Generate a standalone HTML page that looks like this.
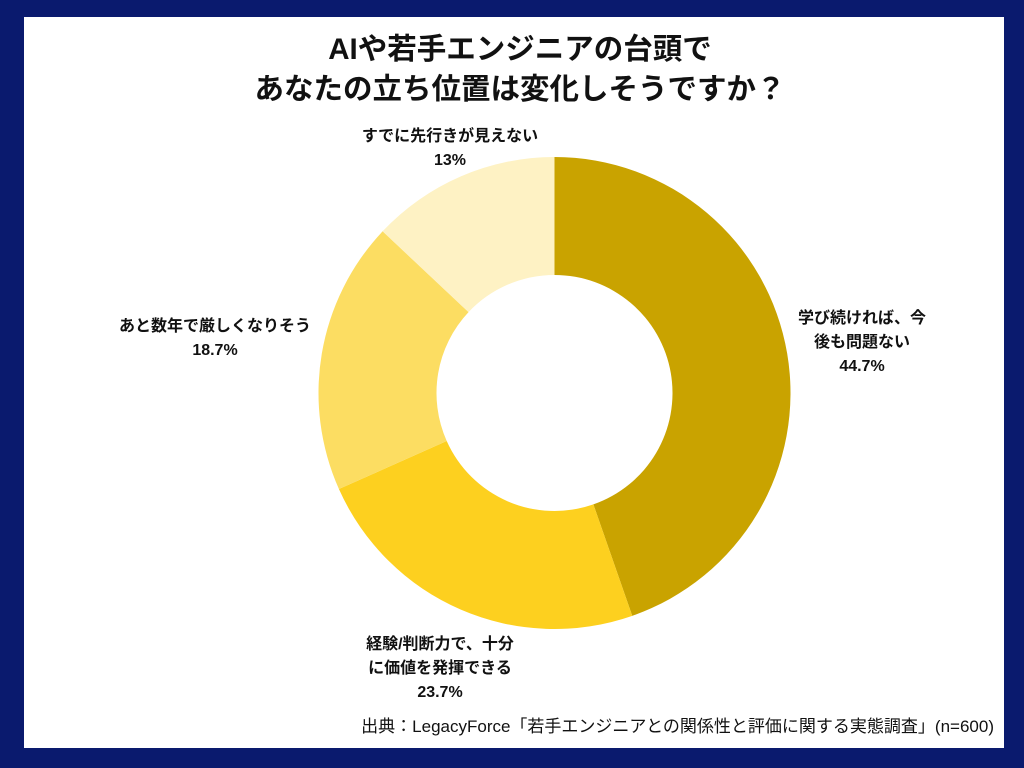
<!DOCTYPE html>
<html><head><meta charset="utf-8"><style>
html,body{margin:0;padding:0;width:1024px;height:768px;overflow:hidden;background:#0a1a6e;}
#card{position:absolute;left:24px;top:17px;width:980px;height:731px;background:#fff;}
.t{position:absolute;font-family:"Liberation Sans","Noto Sans CJK JP",sans-serif;color:#111;text-align:center;}
</style></head><body>
<div id="card"></div>
<div class="t" style="left:0;width:1040px;top:30px;font-size:29.5px;font-weight:bold;line-height:40px;">AIや若手エンジニアの台頭で<br>あなたの立ち位置は変化しそうですか？</div>
<svg id="chart" width="1024" height="768" style="position:absolute;left:0;top:0"></svg>
<div class="t" style="left:772px;width:180px;top:307px;font-size:16px;font-weight:bold;line-height:24px;">学び続ければ、今<br>後も問題ない<br>44.7%</div>
<div class="t" style="left:340px;width:200px;top:633px;font-size:16px;font-weight:bold;line-height:24px;">経験/判断力で、十分<br>に価値を発揮できる<br>23.7%</div>
<div class="t" style="left:95px;width:240px;top:315px;font-size:16px;font-weight:bold;line-height:24px;">あと数年で厳しくなりそう<br>18.7%</div>
<div class="t" style="left:330px;width:240px;top:125px;font-size:16px;font-weight:bold;line-height:24px;">すでに先行きが見えない<br>13%</div>
<div class="t" style="left:300px;width:694px;top:712px;font-size:17px;text-align:right;">出典：LegacyForce「若手エンジニアとの関係性と評価に関する実態調査」(n=600)</div>
<script>
const categories=["学び続ければ、今後も問題ない","経験/判断力で、十分に価値を発揮できる","あと数年で厳しくなりそう","すでに先行きが見えない"];
const values=[44.7,23.7,18.7,13];
const colors=["#C9A300","#FDD01F","#FCDD62","#FEF2C4"];
const cx=554.5,cy=393,R=236,r=118;
const svg=document.getElementById('chart');
const total=values.reduce((a,b)=>a+b,0);
function pt(a,rad){return [cx+rad*Math.sin(a),cy-rad*Math.cos(a)];}
let acc=0;
values.forEach((v,i)=>{
  const a0=acc/total*2*Math.PI; acc+=v; const a1=acc/total*2*Math.PI;
  const lg=(a1-a0)>Math.PI?1:0;
  const [x0,y0]=pt(a0,R),[x1,y1]=pt(a1,R),[x2,y2]=pt(a1,r),[x3,y3]=pt(a0,r);
  const p=document.createElementNS('http://www.w3.org/2000/svg','path');
  p.setAttribute('d',`M${x0},${y0}A${R},${R} 0 ${lg} 1 ${x1},${y1}L${x2},${y2}A${r},${r} 0 ${lg} 0 ${x3},${y3}Z`);
  p.setAttribute('fill',colors[i]);
  
  
  svg.appendChild(p);
});
</script>
</body></html>
